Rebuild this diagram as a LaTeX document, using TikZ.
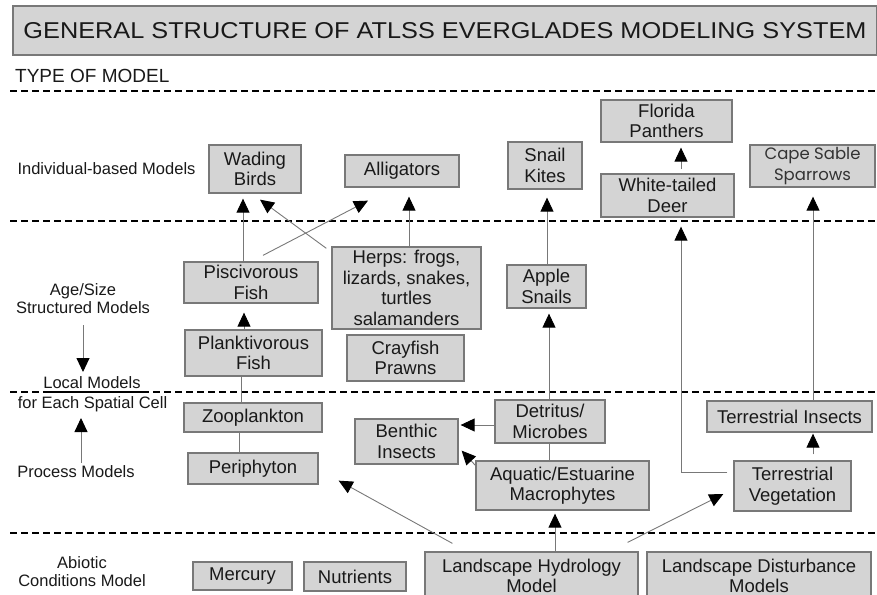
\documentclass[tikz,border=0pt]{standalone}
\usepackage{fontspec}
\setmainfont{Liberation Sans}
\newfontfamily\capefont{Poppins}
\usetikzlibrary{arrows.meta,calc}
\definecolor{boxfill}{RGB}{212,212,212}
\definecolor{boxline}{RGB}{120,120,120}
\definecolor{connline}{RGB}{120,120,120}
\definecolor{txt}{RGB}{25,25,25}
\begin{document}
\begin{tikzpicture}[x=1pt,y=-1pt,
  box/.style={draw=boxline, fill=boxfill, line width=1.3pt, align=center, inner sep=0pt,
    text=txt, font=\fontsize{18.5}{20.5}\selectfont},
  lbl/.style={inner sep=0pt, align=center, text=txt, font=\fontsize{16.5}{18}\selectfont},
  conn/.style={draw=connline, line width=0.9pt},
  arr/.style={conn, -{Triangle[length=14pt,width=13pt,color=black]}},
  sep/.style={draw=black, line width=1.6pt, dash pattern=on 7pt off 4pt}
]
\useasboundingbox (0,0) rectangle (877,594);

% title
\node[box, line width=1.3pt, minimum width=864, minimum height=49] (title) at (445,30.5)
  {\resizebox{843pt}{16pt}{GENERAL STRUCTURE OF ATLSS EVERGLADES MODELING SYSTEM}};
\node[inner sep=0pt, anchor=base west, text=txt, font=\fontsize{19}{20}\selectfont] (typ) at (15,82) {TYPE OF MODEL};

% separators
\coordinate (d1l) at (10,91);  \coordinate (d1r) at (877,91);
\coordinate (d2l) at (10,221); \coordinate (d2r) at (877,221);
\coordinate (d3l) at (10,392); \coordinate (d3r) at (877,392);
\coordinate (d4l) at (10,533); \coordinate (d4r) at (877,533);
\draw[sep] (d1l) -- (d1r);
\draw[sep] (d2l) -- (d2r);
\draw[sep] (d3l) -- (d3r);
\draw[sep] (d4l) -- (d4r);

% left labels
\node[lbl] (ind) at (106.5,169) {Individual-based Models};
\node[lbl] (age) at (83,299) {Age/Size\\Structured Models};
\node[lbl, fill=white, inner ysep=1pt] (loc) at (92,383) {Local Models};
\coordinate (ul1) at (43,392); \coordinate (ul2) at (142,392);
\draw[black, line width=1.2pt] (ul1) -- (ul2);
\node[lbl] (each) at (92.5,404) {for Each Spatial Cell};
\node[lbl] (proc) at (76,472) {Process Models};
\node[lbl] (abio) at (82,572) {Abiotic\\Conditions Model};
\coordinate (q1) at (83,325); \coordinate (q2) at (83,372);
\draw[arr] (q1) -- (q2);
\coordinate (q3) at (81,463); \coordinate (q4) at (81,418);
\draw[arr] (q3) -- (q4);

% boxes
\node[box, minimum width=92, minimum height=48] (wb) at (255,169) {Wading\\Birds};
\node[box, minimum width=114, minimum height=32] (all) at (402,171) {Alligators};
\node[box, minimum width=74, minimum height=47] (sk) at (545,165.5) {Snail\\Kites};
\node[box, minimum width=131, minimum height=42] (fp) at (666.5,121) {Florida\\Panthers};
\node[box, minimum width=133, minimum height=43] (wtd) at (667.5,195.5) {White-tailed\\Deer};
\node[box, minimum width=125, minimum height=42, font=\capefont\fontsize{16.5}{21}\selectfont, text=black!80] (css) at (812.5,166) {Cape Sable\\Sparrows};
\node[box, minimum width=134, minimum height=41] (pisc) at (251,282.5) {Piscivorous\\Fish};
\node[box, minimum width=149, minimum height=82] (herps) at (406.5,288) {Herps: frogs,\\lizards, snakes,\\turtles\\salamanders};
\node[box, minimum width=137, minimum height=46] (plank) at (253.5,353) {Planktivorous\\Fish};
\node[box, minimum width=117, minimum height=46] (cray) at (405.5,358) {Crayfish\\Prawns};
\node[box, minimum width=79, minimum height=43] (apple) at (546.5,286.5) {Apple\\Snails};
\node[box, minimum width=138, minimum height=29] (zoo) at (253,417.5) {Zooplankton};
\node[box, minimum width=130, minimum height=31] (peri) at (253,468.5) {Periphyton};
\node[box, minimum width=99, minimum height=28] (merc) at (242.5,576) {Mercury};
\node[box, minimum width=102, minimum height=29] (nutr) at (355,576.5) {Nutrients};
\node[box, minimum width=103, minimum height=45] (benth) at (406.5,441.5) {Benthic\\Insects};
\node[box, minimum width=110, minimum height=43] (detr) at (550,421.5) {Detritus/\\Microbes};
\node[box, minimum width=173, minimum height=49] (aqua) at (562.5,485.5) {Aquatic/Estuarine\\Macrophytes};
\node[box, minimum width=165, minimum height=31] (tins) at (789.5,416.5) {Terrestrial Insects};
\node[box, minimum width=117, minimum height=50] (tveg) at (792.5,486) {Terrestrial\\Vegetation};
\node[box, minimum width=213, minimum height=48] (hydro) at (531.5,576) {Landscape Hydrology\\Model};
\node[box, minimum width=224, minimum height=48] (dist) at (759,576) {Landscape Disturbance\\Models};

% connectors
\coordinate (a1) at ([xshift=-8pt]pisc.north);
\draw[arr, shorten >=5pt] (a1) -- (a1 |- wb.south);
\draw[arr] ([xshift=12pt,yshift=6pt]pisc.north) -- ([xshift=-34pt,yshift=-13pt]all.south);
\draw[arr] ([xshift=-5pt,yshift=-2pt]herps.north west) -- ([xshift=5pt,yshift=-6pt]wb.south);
\coordinate (a4) at ([xshift=2.5pt]herps.north);
\draw[arr, shorten >=9pt] (a4) -- (a4 |- all.south);
\coordinate (a5) at ([xshift=-9.5pt]plank.north);
\draw[arr, shorten >=9pt] (a5) -- (a5 |- pisc.south);
\coordinate (a6) at ([xshift=-12pt]zoo.north);
\draw[conn] (a6) -- (a6 |- plank.south);
\coordinate (a7) at ([xshift=-14pt]peri.north);
\draw[conn] (a7) -- (a7 |- zoo.south);
\coordinate (a8) at ([xshift=0.5pt]apple.north);
\draw[arr, shorten >=8pt] (a8) -- (a8 |- sk.south);
\coordinate (a9) at ([xshift=-1pt]detr.north);
\draw[arr, shorten >=5pt] (a9) -- (a9 |- apple.south);
\coordinate (a10) at ([yshift=-3.5pt]detr.west);
\draw[arr, shorten >=2pt] (a10) -- (a10 -| benth.east);
\draw[arr] ([yshift=-5pt]aqua.north west) -- ([xshift=3pt,yshift=14pt]benth.south east);
\coordinate (a12) at ([xshift=-13.5pt]aqua.north);
\draw[conn] (a12) -- (a12 |- detr.south);
\coordinate (a13) at ([xshift=23.5pt]hydro.north);
\draw[arr, shorten >=3pt] (a13) -- (a13 |- aqua.south);
\draw[arr] ([xshift=28pt,yshift=8pt]hydro.north west) -- ([xshift=20pt,yshift=4pt]peri.south east);
\draw[arr] ([xshift=-11pt,yshift=9pt]hydro.north east) -- ([xshift=-10pt,yshift=-8pt]tveg.west);
\coordinate (a16s) at ([xshift=-6pt,yshift=14pt]tveg.west);
\coordinate (a16e) at ([xshift=13.5pt]wtd.south);
\draw[arr, shorten >=9pt] (a16s) -| (a16e);
\coordinate (a17) at ([xshift=20.5pt,yshift=6pt]tveg.north);
\draw[arr, shorten >=1pt] (a17) -- (a17 |- tins.south);
\coordinate (a18) at ([xshift=23.5pt]tins.north);
\draw[arr, shorten >=9pt] (a18) -- (a18 |- css.south);
\coordinate (a19) at ([xshift=13.5pt,yshift=4pt]wtd.north);
\draw[arr, shorten >=5pt] (a19) -- (a19 |- fp.south);
\end{tikzpicture}
\end{document}
